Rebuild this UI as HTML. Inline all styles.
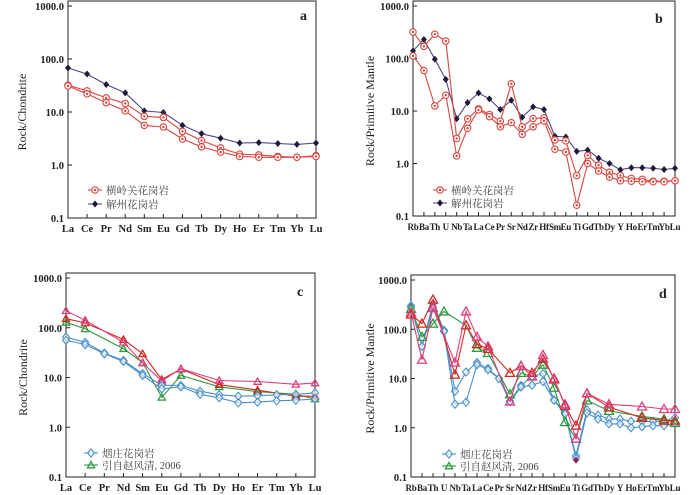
<!DOCTYPE html>
<html><head><meta charset="utf-8">
<style>
body{margin:0;background:#fff;}
svg{display:block;font-family:"Liberation Serif","Noto Serif CJK SC",serif;}
</style></head>
<body>
<svg id="chart" width="700" height="495" viewBox="0 0 700 495"></svg>
<script>
// ---- categories ----
const reeCats = ["La","Ce","Pr","Nd","Sm","Eu","Gd","Tb","Dy","Ho","Er","Tm","Yb","Lu"];
const pmCats = ["Rb","Ba","Th","U","Nb","Ta","La","Ce","Pr","Sr","Nd","Zr","Hf","Sm","Eu","Ti","Gd","Tb","Dy","Y","Ho","Er","Tm","Yb","Lu"];
const yTickVals = [1000,100,10,1,0.1];
const yTickLabels = ["1000.0","100.0","10.0","1.0","0.1"];

// ---- panel a ----
const aJiezhou = [68,52,33,23,10.5,9.8,5.6,3.9,3.2,2.6,2.65,2.55,2.45,2.6];
const aHeng1 = [32,25,18.5,14.5,8.3,7.9,4.3,2.9,2.1,1.6,1.55,1.45,1.4,1.5];
const aHeng2 = [31,22,15,10.5,5.6,5.2,3.1,2.2,1.75,1.45,1.4,1.4,1.4,1.45];
// ---- panel b ----
const bJiezhou = [140,230,97,40,7.1,14.4,22,17,10.7,16,7.6,12,10.7,3.3,3.2,1.7,1.8,1.26,1.0,0.76,0.83,0.83,0.81,0.77,0.81];
const bHeng1 = [320,170,290,215,3.0,7.1,11,8.6,6.4,33,5.0,7.2,7.4,2.8,2.7,0.59,1.42,0.93,0.68,0.59,0.52,0.5,0.46,0.46,0.47];
const bHeng2 = [112,59,12.5,20,1.4,4.7,10.5,7.8,5.0,6.0,3.6,5.0,6.5,1.87,1.66,0.16,1.0,0.72,0.55,0.47,0.46,0.45,0.45,0.45,0.47];
// ---- panel c ----
const cBlue1 = [65,51,31,22,12,7.0,6.9,5.3,4.5,4.2,4.3,4.5,4.6,4.9];
const cBlue2 = [56,46,30,21,11,5.9,6.5,4.6,3.9,3.1,3.2,3.4,3.5,3.7];
const cGreen = [129,95,null,38,20,4.0,11,null,6.5,null,5.2,null,4.6,3.7];
const cRed = [152,125,null,58,30,9.1,14.8,null,7.2,null,5.6,null,4.2,4.2];
const cPink = [220,141,null,51,19.6,8.5,15,null,8.7,null,8.3,null,7.3,7.8];
// ---- panel d ----
const dBlue1 = [300,45,330,95,5.5,13.5,21,16,10,3.5,7.2,11,12.5,3.7,2.0,0.27,2.3,1.8,1.5,1.5,1.35,1.35,1.35,1.35,1.6];
const dBlue2 = [280,45,280,90,3.0,3.3,19,15,10,3.4,6.7,7.3,8.7,3.6,1.9,0.24,2.0,1.5,1.2,1.2,1.0,1.05,1.1,1.1,1.2];
const dGreen = [260,70,130,230,null,120,42,33,null,4.8,13,11,19,6.5,1.3,0.6,3.6,null,2.2,null,null,1.7,null,1.5,1.25];
const dRed = [200,130,400,null,12,120,50,40,null,13,18,13,25,10,2.8,1.1,5,null,2.6,null,null,1.6,null,1.4,1.4];
const dPink = [220,24,270,null,21,230,70,45,null,3.4,18,11,30,9.5,3.0,0.6,5.0,null,3.0,null,null,2.7,null,2.4,2.4];
const dPurple = [null,null,null,null,null,null,null,null,null,null,null,null,null,null,null,0.22,null,null,null,null,null,null,null,null,null];

const NS="http://www.w3.org/2000/svg";
const svg=document.getElementById('chart');
function mk(tag,attrs,parent){const e=document.createElementNS(NS,tag);for(const k in attrs)e.setAttribute(k,attrs[k]);(parent||svg).appendChild(e);return e;}

function marker(g,type,x,y,color,sz){
  let m;const s=sz||1;
  if(type==='circle'){m=mk('g',{},g);mk('circle',{cx:x,cy:y,r:3.2,fill:'#fff',stroke:color,'stroke-width':1.1},m);mk('circle',{cx:x,cy:y,r:1.2,fill:color},m);}
  else if(type==='fdiamond'){m=mk('path',{d:`M${x},${y-3.5}L${x+3},${y}L${x},${y+3.5}L${x-3},${y}Z`,fill:color},g);}
  else if(type==='odiamond'){m=mk('path',{d:`M${x},${y-4}L${x+3.5},${y}L${x},${y+4}L${x-3.5},${y}Z`,fill:'#fff','fill-opacity':0.6,stroke:color,'stroke-width':1.1},g);}
  else if(type==='tri'){m=mk('path',{d:`M${x},${y-4.5*s}L${x+4.5*s},${y+3.5*s}L${x-4.5*s},${y+3.5*s}Z`,fill:'none',stroke:color,'stroke-width':1.3},g);}
  
  
}

function panel(p){
  const g=mk('g',{});
  
  
  const n=p.cats.length;
  const xs=i=>p.x0+(p.x1-p.x0)*i/(n-1);
  const ys=v=>p.yTop+(3-Math.log10(v))*(p.yBot-p.yTop)/4;
  const frame=mk('rect',{x:p.x0,y:p.yTop-5,width:p.x1-p.x0,height:p.yBot-p.yTop+5,fill:'none',stroke:'#222','stroke-width':1},g);
  
  yTickVals.forEach((v,i)=>{
    const y=ys(v);
    mk('line',{x1:p.x0,x2:p.x0+4,y1:y,y2:y,stroke:'#222'},g);
    const t=mk('text',{x:p.x0-4,y:y+4,'text-anchor':'end','font-size':10.5,'font-weight':'bold',fill:'#222'},g);
    t.textContent=yTickLabels[i];
    
  });
  p.cats.forEach((c,i)=>{
    const x=xs(i);
    mk('line',{x1:x,x2:x,y1:p.yBot,y2:p.yBot-4,stroke:'#222'},g);
    const t=mk('text',{x:x,y:p.yBot+14,'text-anchor':'middle','font-size':p.xfs,'font-weight':'bold',fill:'#222','letter-spacing':p.xls||0},g);
    t.textContent=c;
    
  });
  const yt=mk('text',{transform:`translate(${p.ytX},${(p.yTop+p.yBot)/2}) rotate(-90)`,'text-anchor':'middle','font-size':12,fill:'#222'},g);
  yt.textContent=p.ytitle;
  
  const lt=mk('text',{x:p.lx,y:p.ly,'font-size':14,'font-weight':'bold',fill:'#222'},g);
  lt.textContent=p.letter;
  
  p.series.forEach(s=>{
    const sg=mk('g',{},g);
    
    let d='';
    s.vals.forEach((v,i)=>{if(v==null)return;d+=(d?'L':'M')+xs(i).toFixed(1)+','+ys(v).toFixed(1);});
    const path=mk('path',{d:d,fill:'none',stroke:s.line||s.color,'stroke-width':1.1},sg);
    
    s.vals.forEach((v,i)=>{if(v==null)return;marker(sg,s.marker,xs(i),ys(v),s.color,p.msz);});
  });
  p.legend.forEach((L,i)=>{
    const lg=mk('g',{},g);
    
    const y=p.legY+i*p.legDy;
    mk('line',{x1:p.legX,x2:p.legX+14,y1:y,y2:y,stroke:L.line||L.color,'stroke-width':1.1},lg);
    marker(lg,L.marker,p.legX+7,y,L.color,0.8);
    const t=mk('text',{x:p.legX+18,y:y+4,'font-size':10.5,fill:'#444'},lg);
    t.textContent=L.label;
  });
}

const RED='#d8453c',NAVY='#1e1a3a',NAVYL='#4d4585',BLUE='#4a90c8',GREEN='#2e9a40',DRED='#d4281e',PINK='#de3f7e';

panel({letter:'a',cats:reeCats,x0:68,x1:316,yTop:6,yBot:218,xfs:10.5,ytX:26,ytitle:'Rock/Chondrite',lx:300,ly:20,
  series:[{name:'jiezhou',vals:aJiezhou,marker:'fdiamond',color:NAVY,line:NAVYL},
          {name:'henglingguan-1',vals:aHeng1,marker:'circle',color:RED},
          {name:'henglingguan-2',vals:aHeng2,marker:'circle',color:RED}],
  legX:88,legY:190,legDy:14,
  legend:[{label:'横岭关花岗岩',marker:'circle',color:RED},{label:'解州花岗岩',marker:'fdiamond',color:NAVY,line:NAVYL}]});

panel({letter:'b',cats:pmCats,x0:413,x1:675,yTop:6,yBot:216,xfs:9,xls:-0.3,ytX:374,ytitle:'Rock/Primitive Mantle',lx:655,ly:23,
  series:[{name:'jiezhou',vals:bJiezhou,marker:'fdiamond',color:NAVY,line:NAVYL},
          {name:'henglingguan-1',vals:bHeng1,marker:'circle',color:RED},
          {name:'henglingguan-2',vals:bHeng2,marker:'circle',color:RED}],
  legX:433,legY:190,legDy:13,
  legend:[{label:'横岭关花岗岩',marker:'circle',color:RED},{label:'解州花岗岩',marker:'fdiamond',color:NAVY,line:NAVYL}]});

panel({letter:'c',cats:reeCats,x0:66,x1:315,yTop:278,yBot:477,xfs:10.5,ytX:27,ytitle:'Rock/Chondrite',lx:297,ly:296,msz:0.8,
  series:[{name:'green-zhao-2006',vals:cGreen,marker:'tri',color:GREEN},
          {name:'red',vals:cRed,marker:'tri',color:DRED},
          {name:'pink',vals:cPink,marker:'tri',color:PINK},
          {name:'yanzhuang-1',vals:cBlue1,marker:'odiamond',color:BLUE},
          {name:'yanzhuang-2',vals:cBlue2,marker:'odiamond',color:BLUE}],
  legX:84,legY:453,legDy:12,
  legend:[{label:'烟庄花岗岩',marker:'odiamond',color:BLUE},{label:'引自赵风清, 2006',marker:'tri',color:GREEN}]});

panel({letter:'d',cats:pmCats,x0:411,x1:675,yTop:280,yBot:477,xfs:9,xls:-0.3,ytX:374,ytitle:'Rock/Primitive Mantle',lx:659,ly:298,msz:1,
  series:[{name:'yanzhuang-1',vals:dBlue1,marker:'odiamond',color:BLUE},
          {name:'yanzhuang-2',vals:dBlue2,marker:'odiamond',color:BLUE},
          {name:'green-zhao-2006',vals:dGreen,marker:'tri',color:GREEN},
          {name:'red',vals:dRed,marker:'tri',color:DRED},
          {name:'pink',vals:dPink,marker:'tri',color:PINK},
          {name:'purple-ti',vals:dPurple,marker:'fdiamond',color:'#8a2050'}],
  legX:442,legY:454,legDy:12,
  legend:[{label:'烟庄花岗岩',marker:'odiamond',color:BLUE},{label:'引自赵风清, 2006',marker:'tri',color:GREEN}]});
</script>
</body></html>
